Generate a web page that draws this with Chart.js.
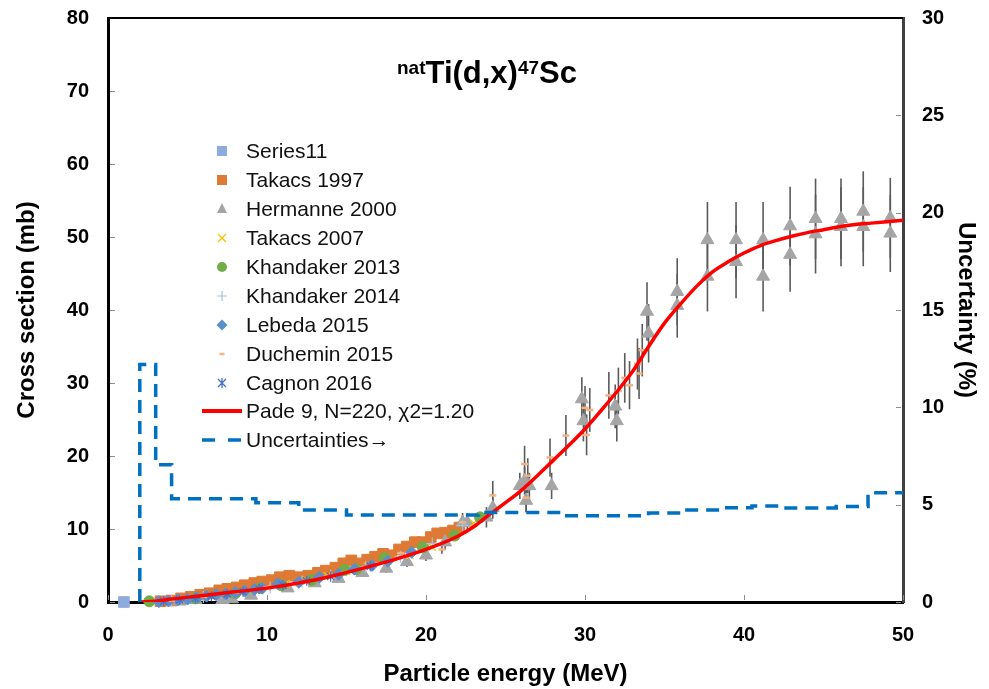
<!DOCTYPE html>
<html>
<head>
<meta charset="utf-8">
<script src="https://cdn.jsdelivr.net/npm/chart.js@4.4.1/dist/chart.umd.min.js"></script>
<style>
  body { margin: 0; background: #fff; font-family: "Liberation Sans", Arial, sans-serif; }
  #wrap { position: relative; width: 989px; height: 689px; }
  #title { position: absolute; left: 397px; top: 57px; font-size: 31px; font-weight: bold; line-height: 31px; color: #000; white-space: nowrap; }
  #title .sup { font-size: 19px; position: relative; top: -9px; }
  #legend { position: absolute; left: 200px; top: 137px; font-size: 21px; color: #111; }
  #legend .row { height: 28.9px; display: flex; align-items: center; white-space: nowrap; }
  #legend svg { width: 44px; height: 20px; flex-shrink: 0; margin-right: 2px; }
</style>
</head>
<body>
<div id="wrap">
  <canvas id="cs" width="989" height="689"></canvas>
  <div id="title"><span class="sup">nat</span>Ti(d,x)<span class="sup">47</span>Sc</div>
  <div id="legend"></div>
</div>
<script>
// 截面数据（MeV, mb）
const series11E = [1.0];
const series11V = [0];

const takacs1997E = [3.3, 4.0, 4.6, 5.2, 5.8, 6.4, 7.0, 7.5, 8.1, 8.6, 9.2, 9.7, 10.3, 10.8, 11.4, 12.0, 12.6, 13.2, 13.7, 14.3, 14.8, 15.3, 15.8, 16.3, 16.8, 17.3, 17.8, 18.3, 18.8, 19.3, 19.8, 20.3, 20.7, 21.2, 21.7, 22.1];
const takacs1997V = [0.1, 0.2, 0.5, 0.7, 1.0, 1.2, 1.6, 1.8, 2.0, 2.3, 2.6, 2.8, 3.0, 3.4, 3.6, 3.4, 3.6, 4.0, 4.3, 4.7, 5.3, 5.7, 5.3, 5.8, 6.2, 6.6, 6.4, 7.2, 7.6, 8.2, 8.2, 8.9, 9.4, 9.5, 9.8, 10.2];

const hermanneE = [4.5, 5.5, 7.2, 7.8, 9.0, 11.3, 13.0, 14.5, 16.0, 17.5, 18.8, 20.0, 21.2, 22.3, 22.6, 23.8, 24.2, 25.9, 26.2, 26.5, 26.3, 27.9, 29.8, 29.9, 31.9, 32.0, 33.9, 34.0, 35.8, 35.8, 37.7, 37.7, 39.5, 39.5, 41.2, 41.2, 42.9, 42.9, 44.5, 44.5, 46.1, 46.1, 47.5, 47.5, 49.2, 49.2];
const hermanneV = [0.1, 0.3, 0.3, 0.4, 0.9, 1.9, 2.6, 3.2, 4.0, 4.6, 5.5, 6.4, 8.2, 10.9, 10.9, 11.6, 12.9, 15.9, 16.6, 15.9, 13.9, 15.9, 27.8, 24.8, 26.8, 24.8, 39.8, 36.8, 42.5, 40.6, 49.6, 44.6, 49.6, 46.6, 49.6, 44.6, 51.5, 47.6, 52.5, 50.4, 52.5, 51.4, 53.5, 51.4, 52.6, 50.5];
const hermanneErr = [0.1, 0.1, 0.1, 0.1, 0.2, 0.3, 0.4, 0.4, 0.5, 0.6, 0.7, 0.8, 1.0, 1.3, 1.3, 1.4, 1.5, 1.8, 1.9, 1.8, 1.6, 1.8, 3.0, 2.8, 3.0, 2.8, 4.0, 4.0, 4.6, 4.4, 5.2, 4.8, 5.2, 5.0, 5.2, 4.8, 5.4, 5.1, 5.5, 5.4, 5.5, 5.4, 5.5, 5.4, 5.5, 5.3];

const takacs2007E = [3.0, 4.2, 5.3, 6.5, 7.6, 8.8, 10.0, 11.2, 12.5, 13.8, 15.0, 16.3, 17.6, 19.0, 20.4, 21.8, 23.0];
const takacs2007V = [0.1, 0.3, 0.5, 0.9, 1.2, 1.6, 2.0, 2.5, 3.0, 3.6, 4.2, 4.9, 5.6, 6.4, 7.5, 9.2, 10.8];

const khand2013E = [2.6, 5.5, 8.0, 9.6, 10.9, 12.8, 14.9, 15.6, 17.4, 19.8, 21.8, 23.4];
const khand2013V = [0.1, 0.5, 1.2, 1.9, 2.3, 3.0, 4.4, 4.5, 6.0, 7.5, 9.1, 11.6];

const khand2014E = [4.0, 6.0, 8.0, 10.2, 12.2, 14.0, 16.2, 18.4, 20.4, 22.3];
const khand2014V = [0.2, 0.7, 1.3, 2.0, 2.8, 3.6, 4.8, 6.2, 8.0, 10.5];

const lebedaE = [3.2, 3.8, 4.4, 5.0, 5.6, 6.2, 6.8, 7.4, 8.0, 8.6, 9.2, 9.7, 10.7, 12.0, 13.3, 14.5, 15.5, 16.6, 17.6, 19.1];
const lebedaV = [0.05, 0.15, 0.3, 0.4, 0.6, 0.8, 1.0, 1.1, 1.3, 1.5, 1.7, 1.9, 2.5, 2.7, 3.4, 3.8, 4.5, 5.0, 5.6, 6.8];

const duchE = [4.0, 6.0, 8.0, 10.0, 12.1, 13.8, 14.9, 16.2, 18.4, 21.0, 22.3, 24.2, 26.2, 26.4, 26.3, 27.8, 28.8, 30.0, 30.3, 30.1, 31.5, 32.1, 32.5, 32.8, 33.3, 33.4, 33.6];
const duchV = [0.2, 0.7, 1.3, 2.0, 2.7, 3.5, 4.0, 4.8, 6.7, 7.2, 10.9, 14.6, 18.9, 17.3, 14.3, 19.8, 22.8, 26.6, 26.3, 22.9, 28.3, 28.9, 30.7, 29.7, 32.6, 31.3, 34.5];
const duchErr = [0.1, 0.1, 0.2, 0.2, 0.3, 0.3, 0.3, 0.4, 0.5, 0.6, 0.9, 2.0, 2.5, 2.4, 2.0, 2.6, 2.8, 3.0, 3.0, 2.8, 3.2, 3.2, 3.4, 3.3, 3.5, 3.5, 3.6];

const cagnonE = [3.5, 4.5, 5.5, 6.5, 7.5, 8.5, 9.5, 11.0, 12.5, 14.0, 16.5];
const cagnonV = [0.1, 0.3, 0.5, 0.8, 1.1, 1.4, 1.8, 2.3, 2.9, 3.5, 4.9];

// Pade 拟合曲线
const padeE = [2, 3, 4, 6, 8, 10, 12, 14, 16, 18, 20, 22, 23, 24, 25, 26, 27, 28, 29, 30, 31, 32, 33, 34, 35, 36, 37, 38, 39, 40, 41, 42, 43, 44, 45, 46, 47, 48, 49, 50];
const padeV = [0, 0.1, 0.4, 0.9, 1.4, 1.9, 2.6, 3.5, 4.6, 5.8, 7.2, 9.0, 10.3, 12.0, 13.6, 15.3, 17.3, 19.4, 21.5, 23.7, 26.2, 28.8, 31.6, 35.0, 38.2, 40.8, 43.2, 45.2, 46.6, 47.8, 48.8, 49.5, 50.1, 50.6, 51.0, 51.4, 51.7, 51.9, 52.1, 52.3];

// 不确定度（%，右轴），阶梯线
const uncE = [2, 2, 3, 4, 9.3, 12, 15, 23.3, 28.5, 34, 36, 38.5, 40.5, 42.5, 45.8, 47.8, 50];
const uncV = [0, 12.2, 7.05, 5.3, 5.1, 4.73, 4.47, 4.6, 4.43, 4.57, 4.73, 4.84, 4.93, 4.83, 4.9, 5.61, 5.61];

const xTicks = [0, 10, 20, 30, 40, 50];

const pts = (xs, ys) => xs.map((x, i) => ({ x, y: ys[i] }));

// 误差棒插件
const errorBars = {
  id: 'errorBars',
  beforeDatasetsDraw(chart) {
    const { ctx, scales: { x, y } } = chart;
    ctx.save();
    ctx.strokeStyle = '#5a5a5a';
    ctx.lineWidth = 1.6;
    chart.data.datasets.forEach(ds => {
      if (!ds.errors) return;
      ds.data.forEach((p, i) => {
        const px = x.getPixelForValue(p.x);
        ctx.beginPath();
        ctx.moveTo(px, y.getPixelForValue(p.y - ds.errors[i]));
        ctx.lineTo(px, y.getPixelForValue(p.y + ds.errors[i]));
        ctx.stroke();
      });
    });
    ctx.restore();
  }
};

// 内侧刻度线 + 顶边框
const frame = {
  id: 'frame',
  afterDraw(chart) {
    const { ctx, chartArea: a, scales } = chart;
    ctx.save();
    ctx.strokeStyle = '#8c8c8c';
    ctx.lineWidth = 1;
    ctx.beginPath();
    scales.x.ticks.forEach(t => {
      const p = Math.round(scales.x.getPixelForValue(t.value)) + 0.5;
      ctx.moveTo(p, a.bottom - 2); ctx.lineTo(p, a.bottom - 7);
    });
    scales.y.ticks.forEach(t => {
      const p = Math.round(scales.y.getPixelForValue(t.value)) + 0.5;
      ctx.moveTo(a.left + 2, p); ctx.lineTo(a.left + 7, p);
    });
    scales.y2.ticks.forEach(t => {
      const p = Math.round(scales.y2.getPixelForValue(t.value)) + 0.5;
      ctx.moveTo(a.right - 2, p); ctx.lineTo(a.right - 7, p);
    });
    ctx.stroke();
    ctx.strokeStyle = '#000';
    ctx.lineWidth = 2;
    ctx.beginPath();
    ctx.moveTo(a.left, a.top);
    ctx.lineTo(a.right, a.top);
    ctx.stroke();
    ctx.restore();
  }
};

Chart.defaults.font.family = '"Liberation Sans", Arial, sans-serif';
Chart.defaults.color = '#000';

const scatter = (label, xs, ys, style, color, r, order, extra) => Object.assign({
  label, data: pts(xs, ys), type: 'scatter', order, clip: false,
  pointStyle: style, pointRadius: r, pointHoverRadius: r,
  backgroundColor: color, borderColor: color, borderWidth: 1
}, extra || {});

const datasets = [
  scatter('Series11', series11E, series11V, 'rect', '#8FAADC', 7.5, 10),
  scatter('Takacs 1997', takacs1997E, takacs1997V, 'rect', '#DF7A35', 7.5, 9),
  scatter('Hermanne 2000', hermanneE, hermanneV, 'triangle', '#A5A5A5', 7.5, 8, { errors: hermanneErr }),
  scatter('Takacs 2007', takacs2007E, takacs2007V, 'crossRot', '#FFC000', 5, 7, { borderWidth: 1.2 }),
  scatter('Khandaker 2013', khand2013E, khand2013V, 'circle', '#70AD47', 5.5, 6),
  scatter('Khandaker 2014', khand2014E, khand2014V, 'cross', '#9DC3E6', 6, 5, { borderWidth: 1.2 }),
  scatter('Lebeda 2015', lebedaE, lebedaV, 'rectRot', '#5B8FCB', 6, 4),
  scatter('Duchemin 2015', duchE, duchV, 'line', '#F4B183', 3.5, 3, { borderWidth: 2.5, errors: duchErr }),
  scatter('Cagnon 2016', cagnonE, cagnonV, 'star', '#4472C4', 5, 2, { borderWidth: 1.2 }),
  {
    label: 'Pade 9, N=220, χ2=1.20', type: 'line', data: pts(padeE, padeV), order: 1,
    borderColor: '#FF0000', borderWidth: 3.5, pointRadius: 0, fill: false,
    cubicInterpolationMode: 'monotone'
  },
  {
    label: 'Uncertainties→', type: 'line', data: pts(uncE, uncV), yAxisID: 'y2', order: 0,
    borderColor: '#0070C0', borderWidth: 3.5, borderDash: [13, 8], pointRadius: 0,
    fill: false, stepped: 'before'
  }
];

const axisFont = { size: 20, weight: 'bold' };
const titleFont = { size: 24, weight: 'bold' };

// 纵轴：固定宽度，去掉为首尾刻度标签预留的额外空白
const fitVertical = w => s => { s.width = w; s.paddingTop = 0; s.paddingBottom = 0; };

new Chart(document.getElementById('cs').getContext('2d'), {
  type: 'scatter',
  data: { datasets },
  plugins: [errorBars, frame],
  options: {
    responsive: false,
    devicePixelRatio: 1,
    animation: false,
    layout: { padding: { top: 18, left: 0, right: 0, bottom: 0 } },
    plugins: { legend: { display: false }, tooltip: { enabled: false } },
    scales: {
      x: {
        type: 'linear', position: 'bottom', min: 0, max: 50,
        afterFit: s => { s.height = 87; },
        afterBuildTicks: s => { s.ticks = xTicks.map(v => ({ value: v })); },
        ticks: { font: axisFont, padding: 21, color: '#000', maxRotation: 0 },
        grid: { drawOnChartArea: false, drawTicks: false },
        border: { color: '#000', width: 3 },
        title: { display: true, text: 'Particle energy (MeV)', font: titleFont, color: '#000', padding: { top: 0, bottom: 0 } }
      },
      y: {
        type: 'linear', position: 'left', min: 0, max: 80,
        afterFit: fitVertical(108),
        ticks: { stepSize: 10, font: axisFont, padding: 19, color: '#000' },
        grid: { drawOnChartArea: false, drawTicks: false },
        border: { color: '#000', width: 3 },
        title: { display: true, text: 'Cross section (mb)', font: titleFont, color: '#000', padding: { top: 13, bottom: 0 } }
      },
      y2: {
        type: 'linear', position: 'right', min: 0, max: 30,
        afterFit: fitVertical(86),
        ticks: { stepSize: 5, font: axisFont, padding: 19, color: '#000' },
        grid: { drawOnChartArea: false, drawTicks: false },
        border: { color: '#404040', width: 3 },
        title: { display: true, text: 'Uncertainty (%)', font: titleFont, color: '#000', padding: { top: 9, bottom: 0 } }
      }
    }
  }
});

// 图例（图内左侧）
const icons = {
  'Series11': '<rect x="17" y="5" width="10" height="10" fill="#8FAADC"/>',
  'Takacs 1997': '<rect x="17" y="5" width="10" height="10" fill="#DF7A35"/>',
  'Hermanne 2000': '<polygon points="22,4 27,14 17,14" fill="#A5A5A5"/>',
  'Takacs 2007': '<path d="M18,6 L26,14 M26,6 L18,14" stroke="#FFC000" stroke-width="1.3"/>',
  'Khandaker 2013': '<circle cx="22" cy="10" r="5" fill="#70AD47"/>',
  'Khandaker 2014': '<path d="M22,5 L22,15 M17,10 L27,10" stroke="#9DC3E6" stroke-width="1.2"/>',
  'Lebeda 2015': '<polygon points="22,4.5 27.5,10 22,15.5 16.5,10" fill="#5B8FCB"/>',
  'Duchemin 2015': '<path d="M19.5,10 L24.5,10" stroke="#F4B183" stroke-width="2.5"/>',
  'Cagnon 2016': '<path d="M18,6 L26,14 M26,6 L18,14 M22,5 L22,15" stroke="#4472C4" stroke-width="1.3"/>',
  'Pade 9, N=220, χ2=1.20': '<path d="M2,10 L42,10" stroke="#FF0000" stroke-width="4"/>',
  'Uncertainties→': '<path d="M2,10 L15,10 M28,10 L41,10" stroke="#0070C0" stroke-width="3.5"/>'
};
document.getElementById('legend').innerHTML = datasets.map(ds =>
  `<div class="row"><svg viewBox="0 0 44 20">${icons[ds.label]}</svg><span>${ds.label}</span></div>`
).join('');
</script>
</body>
</html>
